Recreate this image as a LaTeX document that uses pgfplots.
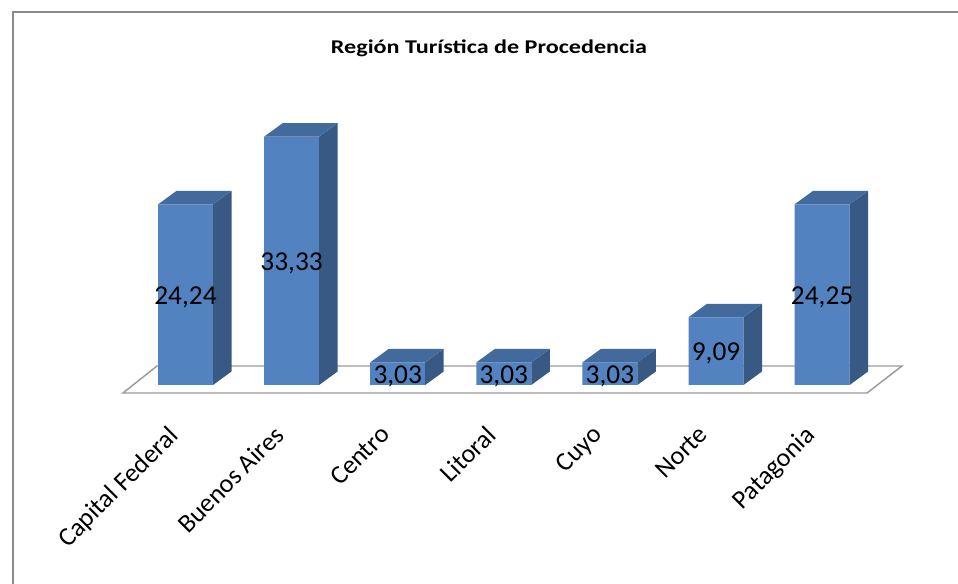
\documentclass[border=0pt]{standalone}
\usepackage{pgfplots}
\pgfplotsset{compat=1.18}
\usepackage{pgfplotstable}
\usepackage{graphicx}
\usepackage{fontspec}
\setmainfont{Carlito}

\definecolor{frontc}{RGB}{82,131,192}
\definecolor{topc}{RGB}{66,106,156}
\definecolor{sidec}{RGB}{56,89,131}
\definecolor{framec}{RGB}{138,138,138}
\definecolor{floorc}{RGB}{155,155,155}

\pgfplotstableread{
i v
0 24.24
1 33.33
2 3.03
3 3.03
4 3.03
5 9.09
6 24.25
}\datatable

% side and top faces of a 3D bar; origin at the bar's top-front centre
\pgfdeclareplotmark{bar3d}{%
  \pgfmathsetlengthmacro\barh{\barval*5.5875pt}%
  \pgfsetfillcolor{sidec}%
  \pgfpathmoveto{\pgfpoint{20.625pt}{-\barh}}%
  \pgfpathlineto{\pgfpoint{34.5pt}{-\barh+10.125pt}}%
  \pgfpathlineto{\pgfpoint{34.5pt}{10.125pt}}%
  \pgfpathlineto{\pgfpoint{20.625pt}{0pt}}%
  \pgfpathclose
  \pgfusepath{fill}%
  \pgfsetfillcolor{topc}%
  \pgfpathmoveto{\pgfpoint{-20.625pt}{0pt}}%
  \pgfpathlineto{\pgfpoint{20.625pt}{0pt}}%
  \pgfpathlineto{\pgfpoint{34.5pt}{10.125pt}}%
  \pgfpathlineto{\pgfpoint{-6.75pt}{10.125pt}}%
  \pgfpathclose
  \pgfusepath{fill}%
}

\begin{document}
\begin{tikzpicture}
\path[use as bounding box] (0pt,0pt) rectangle (718.5pt,438pt);
\draw[framec, line width=1.5pt] (9.375pt,-5pt) -- (9.375pt,428.625pt) -- (718.5pt,428.625pt);
\node[font=\bfseries\fontsize{14.6}{15}\selectfont, anchor=base, inner sep=0pt]
  at (366.75pt,397.9pt) {\scalebox{1.24}[1]{Región Turística de Procedencia}};
\begin{axis}[
  at={(59.55pt,118.52pt)}, anchor=south west,
  x=79.575pt, y=5.5875pt,
  xmin=-1, xmax=6.9, ymin=-5.5, ymax=45,
  axis line style={draw=none}, tick style={draw=none},
  ytick=\empty, xtick={0,...,6},
  xticklabels={Capital Federal, Buenos Aires, Centro, Litoral, Cuyo, Norte, Patagonia},
  xticklabel style={rotate=45, anchor=north east, inner sep=0pt, xshift=-8.8pt, yshift=11.1pt,
    font=\fontsize{19.6}{20}\selectfont},
  clip=false,
]
\addplot[draw=floorc, line width=1.1pt, fill=white, mark=none]
  coordinates {(-0.589,-1.074) (6.423,-1.074) (6.753,2.55) (-0.269,2.55)} -- cycle;
\addplot[ybar, bar width=41.25pt, fill=frontc, draw=none] table[x=i,y=v]{\datatable};
\addplot[only marks, mark=bar3d, visualization depends on={\thisrow{v} \as \barval}]
  table[x=i,y=v]{\datatable};
\addplot[only marks, mark=none, point meta=explicit,
  nodes near coords={\pgfmathprintnumber[fixed,fixed zerofill,precision=2,use comma,assume math mode=true]{\pgfplotspointmeta}},
  nodes near coords style={anchor=center, text=black, inner sep=0pt, yshift=-2pt, font=\fontsize{20.5}{21}\selectfont}]
  table[x=i, y expr=\thisrow{v}/2, meta=v]{\datatable};
\end{axis}
\end{tikzpicture}
\end{document}
